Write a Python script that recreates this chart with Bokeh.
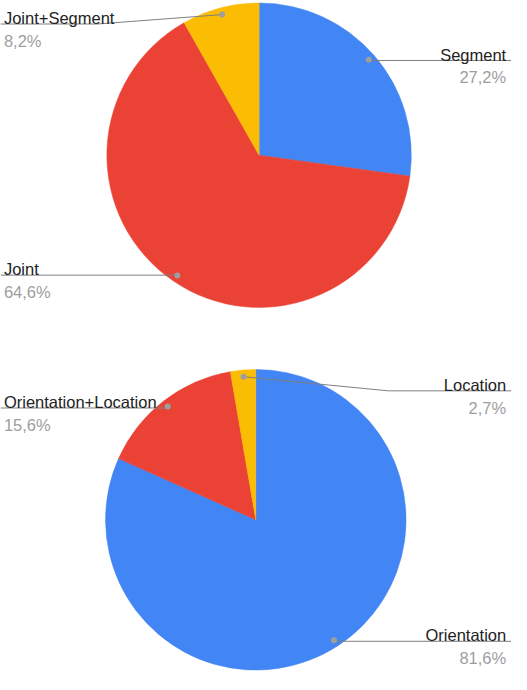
import math
from bokeh.plotting import figure
from bokeh.models import Range1d, ColumnDataSource
from bokeh.embed import file_html
from bokeh.resources import INLINE
from bokeh.core.properties import value

# ---- data ----
top_labels = ["Segment", "Joint", "Joint+Segment"]
top_values = [27.2, 64.6, 8.2]
bottom_labels = ["Orientation", "Orientation+Location", "Location"]
bottom_values = [81.6, 15.6, 2.7]
slice_colors = ["#4285F4", "#EA4335", "#FBBC04"]

# ---- layout (reference pixel coordinates) ----
W, H = 527, 690
PW, PH = 511, 674
s = PW / W
yspan = PH / s
pad = (yspan - H) / 2

pies = [
    dict(labels=top_labels, values=top_values, cx=266.7, cy=157.0, r=157.0,
         label_y=[59.3, 280.7, 21.7], elbow_x=[None, None, 100.0],
         side=["right", "left", "left"]),
    dict(labels=bottom_labels, values=bottom_values, cx=263.3, cy=533.0, r=155.0,
         label_y=[658.3, 417.7, 400.0], elbow_x=[None, None, 400.0],
         side=["right", "left", "right"]),
]


def Y(ref_y):
    return H - ref_y


p = figure(width=PW, height=PH, x_range=Range1d(0, W), y_range=Range1d(-pad, H + pad),
           output_backend="svg", toolbar_location=None, min_border=0,
           x_axis_location=None, y_axis_location=None)
p.grid.visible = False
p.outline_line_color = None
p.background_fill_color = "white"
p.border_fill_color = "white"

FONT = value("Liberation Sans")
FS = f"{17 * s:.1f}px"

for pie in pies:
    vals = pie["values"]
    total = sum(vals)
    cum = 0.0
    starts, ends, mids = [], [], []
    for v in vals:
        a0 = cum / total
        cum += v
        a1 = cum / total
        starts.append(math.pi / 2 - 2 * math.pi * a0)
        ends.append(math.pi / 2 - 2 * math.pi * a1)
        mids.append(2 * math.pi * (a0 + a1) / 2)
    cxd, cyd = pie["cx"], Y(pie["cy"])
    src = ColumnDataSource(dict(start=starts, end=ends, color=slice_colors[:len(vals)]))
    p.wedge(x=cxd, y=cyd, radius=pie["r"], start_angle="start", end_angle="end",
            direction="clock", fill_color="color", line_color="color", line_width=0.5,
            source=src)

    xs, ys, dx, dy = [], [], [], []
    tx, ty, tt, ta = [], [], [], []
    px, py, pt = [], [], []
    for i, (lab, v) in enumerate(zip(pie["labels"], vals)):
        th = mids[i]
        f = 0.955 * pie["r"]
        dot_x = cxd + f * math.sin(th)
        dot_y = cyd + f * math.cos(th)
        ly = Y(pie["label_y"][i])
        ex = pie["elbow_x"][i] if pie["elbow_x"][i] is not None else dot_x
        end_x = 0 if pie["side"][i] == "left" else W
        xs.append([dot_x, ex, end_x])
        ys.append([dot_y, ly, ly])
        dx.append(dot_x)
        dy.append(dot_y)
        text_x = 3.5 if pie["side"][i] == "left" else 521.5
        align = "left" if pie["side"][i] == "left" else "right"
        tx.append(text_x); ty.append(ly + 6); tt.append(lab); ta.append(align)
        px.append(text_x); py.append(ly - 17.5)
        pt.append(f"{v:.1f}".replace(".", ",") + "%")
    p.multi_line(xs=xs, ys=ys, line_color="#7f7f7f", line_width=1)
    p.scatter(x=dx, y=dy, size=6, fill_color="#9e9e9e", line_color=None)
    for j in range(len(tt)):
        p.text(x=[tx[j]], y=[ty[j]], text=[tt[j]], text_font=FONT, text_font_size=FS,
               text_color="#222222", text_align=ta[j], text_baseline="alphabetic")
        p.text(x=[px[j]], y=[py[j]], text=[pt[j]], text_font=FONT, text_font_size=FS,
               text_color="#9e9e9e", text_align=ta[j], text_baseline="alphabetic")

open("out.html", "w").write(file_html(p, INLINE))
